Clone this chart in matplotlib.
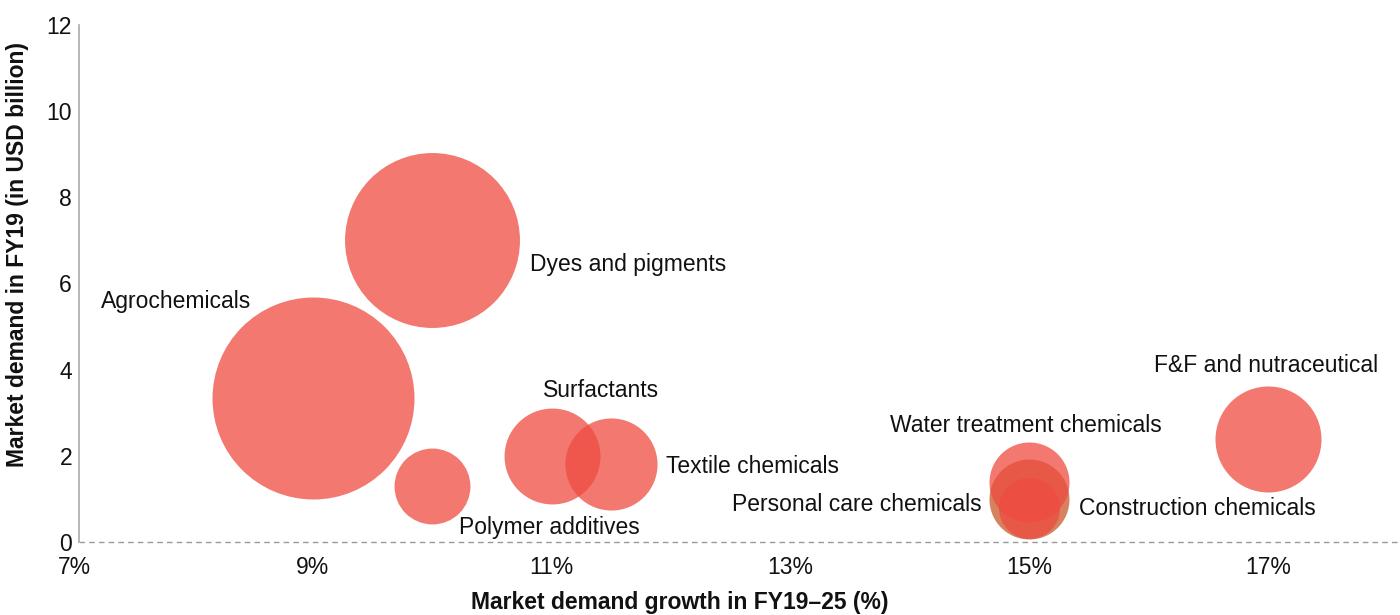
import matplotlib
matplotlib.use("Agg")
import matplotlib.pyplot as plt
import numpy as np

plt.rcParams['font.family'] = ['Liberation Sans', 'DejaVu Sans']

# ---- data ----
categories = ["Agrochemicals", "Dyes and pigments", "Polymer additives", "Surfactants",
              "Textile chemicals", "Personal care chemicals", "Water treatment chemicals",
              "Construction chemicals", "F&F and nutraceutical"]
growth = [9.0, 10.0, 10.0, 11.0, 11.5, 15.0, 15.0, 15.0, 17.0]          # % (x)
demand = [3.35, 7.0, 1.3, 2.0, 1.8, 1.0, 1.4, 0.8, 2.4]                 # USD bn (y)
bubble = [102, 76.5, 14.4, 23.0, 21.2, 16.0, 16.0, 9.3, 28.1]            # relative bubble size
x_ticks = [7, 9, 11, 13, 15, 17]
x_tick_labels = ["7%", "9%", "11%", "13%", "15%", "17%"]
y_ticks = [0, 2, 4, 6, 8, 10, 12]

# ---- styles ----
red = (238/255, 75/255, 64/255)
orange = (202/255, 88/255, 42/255)
colors = [red, red, red, red, red, orange, red, red, red]
# label offsets (points) and alignment
offsets = [(-44, 69.6), (70.4, -17.1), (84.1, -30.2), (35.6, 47.4), (39.4, -1.2),
           (-34, -3.7), (-2.2, 40.8), (35.9, -0.4), (-1.2, 52.3)]
aligns = ["right", "left", "center", "center", "left", "right", "center", "left", "center"]
FS = 16.5

W, H = 1400, 615
fig = plt.figure(figsize=(W/100, H/100), dpi=100)
left_px, right_px, bottom_px, top_px = 74, 1400, 542, 25
ax = fig.add_axes([left_px/W, 1 - bottom_px/H, (right_px-left_px)/W, (bottom_px-top_px)/H])
ax.set_xlim(7, 7 + (right_px-left_px)/119.4)
ax.set_ylim(0, 12)

scale = 207.36  # pt^2 per bubble unit
for xi, yi, bi, c in zip(growth, demand, bubble, colors):
    ax.scatter([xi], [yi], s=bi*scale, color=c, alpha=0.75, linewidths=0, zorder=3)

for name, xi, yi, off, ha in zip(categories, growth, demand, offsets, aligns):
    ax.annotate(name, xy=(xi, yi), xytext=off, textcoords='offset points',
                ha=ha, va='center', fontsize=FS, color='#111111', zorder=5)

ax.set_xticks(x_ticks)
ax.set_xticklabels(x_tick_labels)
ax.set_yticks(y_ticks)
ax.tick_params(axis='both', length=0, labelsize=FS, colors='#111111')
ax.tick_params(axis='x', pad=10)
ax.tick_params(axis='y', pad=5)

for s in ['top', 'right', 'bottom']:
    ax.spines[s].set_visible(False)
spine_shift_px = 5
ax.spines['left'].set_position(('outward', -spine_shift_px * 0.72))
ax.spines['left'].set_color('#aaaaaa')
ax.spines['left'].set_linewidth(1.2)
ax.axhline(0, xmin=spine_shift_px/(right_px-left_px), xmax=1, color='#999999', linewidth=1.0,
           linestyle=(0, (4, 3)), zorder=1, clip_on=False)

fig.text(680/W, 1 - 613.5/H, "Market demand growth in FY19\u201325 (%)", ha='center', va='bottom',
         fontsize=FS, fontweight='bold', color='#111111')
fig.text(18/W, 1 - 255/H, "Market demand in FY19 (in USD billion)", ha='center', va='center',
         rotation=90, fontsize=FS, fontweight='bold', color='#111111')

fig.savefig("out.png", dpi=100)
